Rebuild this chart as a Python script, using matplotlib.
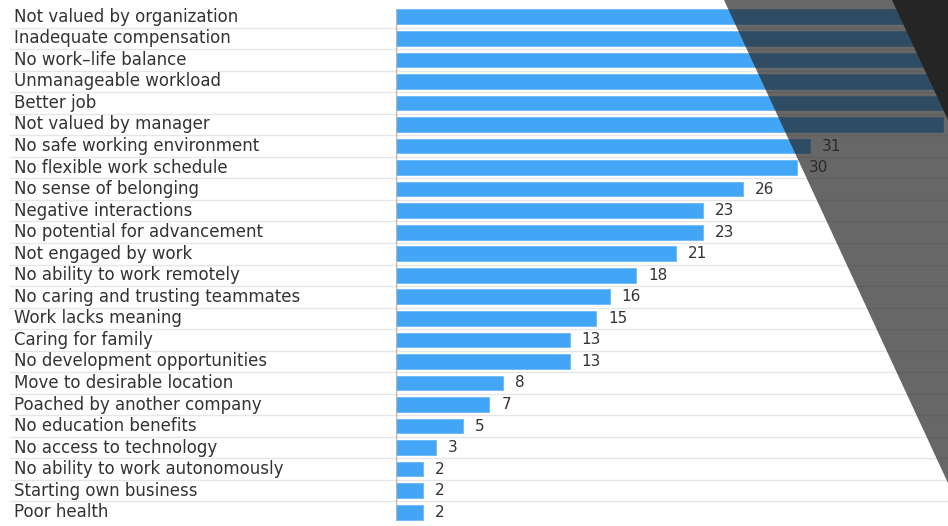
import matplotlib.pyplot as plt
from matplotlib.patches import Polygon

# reasons for leaving, top to bottom
reasons = [
    "Not valued by organization", "Inadequate compensation", "No work\u2013life balance",
    "Unmanageable workload", "Better job", "Not valued by manager",
    "No safe working environment", "No flexible work schedule", "No sense of belonging",
    "Negative interactions", "No potential for advancement", "Not engaged by work",
    "No ability to work remotely", "No caring and trusting teammates", "Work lacks meaning",
    "Caring for family", "No development opportunities", "Move to desirable location",
    "Poached by another company", "No education benefits", "No access to technology",
    "No ability to work autonomously", "Starting own business", "Poor health",
]
# top six run past the slide edge; values there are guesses
values = [54, 50, 47, 45, 43, 41, 31, 30, 26, 23, 23, 21, 18, 16, 15, 13, 13, 8, 7, 5, 3, 2, 2, 2]

W, H = 948, 526
fig = plt.figure(figsize=(W / 100, H / 100), dpi=100)
fig.patch.set_facecolor('white')

# axes: bars start at x=396px, rows from y~6 to ~523 px
ax = fig.add_axes([396 / W, 1 - 523 / H, 1 - 396 / W, (523 - 6) / H])
n = len(reasons)
y = list(range(n))
xmax = (W - 396) / 13.35
ax.barh(y, values, height=0.68, color='#42a5f5', edgecolor='#6cb9f7', linewidth=0.6, zorder=2)
ax.set_ylim(n - 0.5, -0.5)
ax.set_xlim(0, xmax)
ax.axis('off')
ax.axvline(0, ymin=0.01, ymax=0.99, color='#b5b5b5', lw=1, zorder=3)

# separators between rows, running across the whole slide
trans = ax.get_yaxis_transform()
for i in range(n - 1):
    ax.plot([(10 - 396) / (W - 396), 1], [i + 0.5, i + 0.5], transform=trans,
            color='#e6e6e6', lw=1, clip_on=False, zorder=1)

for i, (r, v) in enumerate(zip(reasons, values)):
    ax.text((14 - 396) / (W - 396), i, r, transform=trans, ha='left', va='center',
            fontsize=12, color='#333333', family='DejaVu Sans')
    # labels of the long bars fall off the slide, as in the original
    if v + 3 < xmax:
        ax.text(v + 0.9, i, str(v), ha='left', va='center', fontsize=11,
                color='#333333', family='DejaVu Sans')


def px(pts):
    return [(x / W, 1 - yy / H) for x, yy in pts]


# slide decoration: two slanted dark bands on the right
fig.patches.append(Polygon(px([(724, 0), (W, 0), (W, 483)]), closed=True,
                           transform=fig.transFigure, facecolor='#262626', alpha=0.7,
                           edgecolor='none', zorder=10))
fig.patches.append(Polygon(px([(892, 0), (W, 0), (W, 120)]), closed=True,
                           transform=fig.transFigure, facecolor='#252525',
                           edgecolor='none', zorder=11))

fig.savefig('out.png', dpi=100)
